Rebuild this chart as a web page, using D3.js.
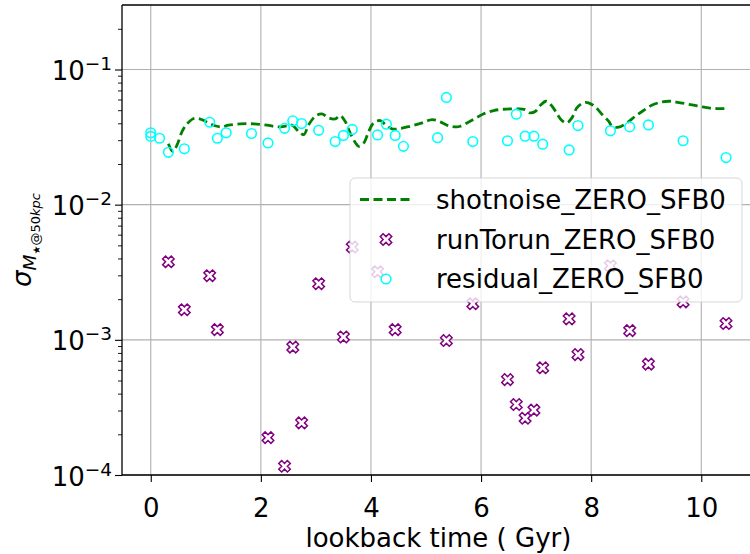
<!DOCTYPE html>
<html>
<head>
<meta charset="utf-8">
<script src="https://cdn.jsdelivr.net/npm/d3@7"></script>
<style>
  body { margin: 0; background: #fff; }
  svg { display: block; }
  text { font-family: "DejaVu Sans", sans-serif; fill: #000; }
</style>
</head>
<body>
<svg id="chart" width="750" height="554"></svg>
<script>
// ---- data ---------------------------------------------------------------
// residual scatter (lookback time in Gyr, sigma)
const residualTime = [0, 0, 0.16, 0.32, 0.61, 1.07, 1.21, 1.37, 1.83, 2.13, 2.43, 2.58, 2.74, 3.05,
  3.35, 3.50, 3.66, 4.12, 4.28, 4.44, 4.59, 5.21, 5.37, 5.85, 6.48, 6.64, 6.80, 6.96, 7.12, 7.60,
  7.76, 8.35, 8.70, 9.04, 9.67, 10.45];
const residualSigma = [0.034, 0.032, 0.031, 0.0244, 0.0259, 0.0407, 0.031, 0.034, 0.0336, 0.0286,
  0.0367, 0.0417, 0.0398, 0.0355, 0.0293, 0.0325, 0.0360, 0.0328, 0.0394, 0.0325, 0.0270, 0.0313,
  0.0621, 0.0293, 0.0297, 0.0467, 0.0321, 0.0321, 0.0280, 0.0254, 0.0385, 0.0352, 0.0376, 0.0389,
  0.0297, 0.0223];

// run-to-run scatter
const runTime = [0.32, 0.61, 1.07, 1.21, 2.13, 2.43, 2.58, 2.74, 3.05, 3.50, 3.66, 4.12, 4.44, 5.37,
  5.85, 6.48, 6.64, 6.80, 6.96, 7.12, 7.60, 7.76, 8.35, 8.70, 9.04, 9.67, 10.45];
const runSigma = [0.00378, 0.00167, 0.00298, 0.00119, 0.000189, 0.000116, 0.000883, 0.000243,
  0.00260, 0.00105, 0.00486, 0.00319, 0.00119, 0.000988, 0.00185, 0.000508, 0.000332, 0.000263,
  0.000302, 0.000621, 0.00143, 0.000778, 0.00353, 0.00117, 0.000661, 0.00191, 0.00132];

// shot-noise curve
const shotTime = [0.32, 0.40, 0.48, 0.57, 0.66, 0.78, 0.87, 0.99, 1.14, 1.29, 1.41, 1.63, 1.87,
  2.11, 2.32, 2.47, 2.57, 2.69, 2.78, 2.87, 2.99, 3.11, 3.23, 3.35, 3.44, 3.53, 3.62, 3.72, 3.78,
  3.87, 3.96, 4.05, 4.17, 4.26, 4.38, 4.50, 4.71, 4.93, 5.11, 5.26, 5.41, 5.56, 5.62, 5.80, 6.05,
  6.23, 6.41, 6.65, 6.80, 6.89, 6.99, 7.08, 7.18, 7.29, 7.38, 7.47, 7.56, 7.65, 7.74, 7.86, 7.95,
  8.08, 8.20, 8.32, 8.38, 8.50, 8.65, 8.80, 8.95, 9.10, 9.29, 9.44, 9.62, 9.80, 9.98, 10.16,
  10.29, 10.42];
const shotSigma = [0.0282, 0.0248, 0.0278, 0.0349, 0.0396, 0.0434, 0.0434, 0.0414, 0.0387,
  0.0376, 0.0387, 0.0396, 0.0396, 0.0387, 0.0376, 0.0383, 0.0387, 0.0346, 0.0330, 0.0391,
  0.0451, 0.0470, 0.0439, 0.0431, 0.0456, 0.0414, 0.0340, 0.0286, 0.0270, 0.0286, 0.0349,
  0.0403, 0.0419, 0.0391, 0.0364, 0.0364, 0.0380, 0.0403, 0.0426, 0.0410, 0.0383, 0.0376,
  0.0380, 0.0414, 0.0470, 0.0497, 0.0508, 0.0511, 0.0505, 0.0478, 0.0491, 0.0544, 0.0582,
  0.0535, 0.0470, 0.0419, 0.0403, 0.0439, 0.0520, 0.0567, 0.0567, 0.0526, 0.0464, 0.0414,
  0.0380, 0.0374, 0.0403, 0.0451, 0.0497, 0.0544, 0.0576, 0.0582, 0.0567, 0.0550, 0.0532,
  0.0517, 0.0514, 0.0514];

const seriesNames = ["shotnoise_ZERO_SFB0", "runTorun_ZERO_SFB0", "residual_ZERO_SFB0"];
const xTicks = [0, 2, 4, 6, 8, 10];
const yTicks = [1e-4, 1e-3, 1e-2, 1e-1];
const yTickExponents = ["−4", "−3", "−2", "−1"];
const xLabel = "lookback time ( Gyr)";

// ---- layout ---------------------------------------------------------------
const svg = d3.select("#chart");
const plot = { left: 122, top: 5, bottom: 475 };
const xDomain = [-0.5225, 10.9725];
const pxPerGyr = 55.05;
plot.right = plot.left + pxPerGyr * (xDomain[1] - xDomain[0]);

const x = d3.scaleLinear().domain(xDomain).range([plot.left, plot.right]);
const y = d3.scaleLog().domain([1e-4, 0.3]).range([plot.bottom, plot.top]);

const gridColor = "#b0b0b0";
const purple = "#800080";
const cyan = "#00ffff";
const green = "#008000";
const fontSize = 26;

svg.append("defs").append("clipPath").attr("id", "plotClip")
  .append("rect")
  .attr("x", plot.left).attr("y", plot.top)
  .attr("width", plot.right - plot.left).attr("height", plot.bottom - plot.top);

// grid
const grid = svg.append("g");
grid.selectAll("line.gx").data(xTicks).join("line")
  .attr("x1", d => x(d)).attr("x2", d => x(d))
  .attr("y1", plot.top).attr("y2", plot.bottom)
  .attr("stroke", gridColor).attr("stroke-width", 1.1);
grid.selectAll("line.gy").data(yTicks).join("line")
  .attr("x1", plot.left).attr("x2", plot.right)
  .attr("y1", d => y(d)).attr("y2", d => y(d))
  .attr("stroke", gridColor).attr("stroke-width", 1.1);

const marks = svg.append("g").attr("clip-path", "url(#plotClip)");

// shot-noise dashed curve
const shotPoints = shotTime.map((t, i) => [t, shotSigma[i]]);
const line = d3.line()
  .x(d => x(d[0])).y(d => y(d[1]))
  .curve(d3.curveCatmullRom.alpha(0.5));
marks.append("path").datum(shotPoints)
  .attr("d", line)
  .attr("fill", "none").attr("stroke", green)
  .attr("stroke-width", 2.8).attr("stroke-dasharray", "9,4.5");

// filled "X" marker outline
const xMarkerSize = 11.5;
const xMarkerPath = (() => {
  const pts = [[-1, -2], [0, -1], [1, -2], [2, -1], [1, 0], [2, 1], [1, 2], [0, 1], [-1, 2], [-2, 1], [-1, 0], [-2, -1]];
  const s = xMarkerSize / 4;
  return "M" + pts.map(p => (p[0] * s).toFixed(2) + "," + (p[1] * s).toFixed(2)).join("L") + "Z";
})();

const runPoints = runTime.map((t, i) => [t, runSigma[i]]);
marks.selectAll("path.run").data(runPoints).join("path")
  .attr("class", "run")
  .attr("d", xMarkerPath)
  .attr("transform", d => `translate(${x(d[0])},${y(d[1])})`)
  .attr("fill", "#fff").attr("stroke", purple).attr("stroke-width", 1.5);

const residualPoints = residualTime.map((t, i) => [t, residualSigma[i]]);
marks.selectAll("circle.res").data(residualPoints).join("circle")
  .attr("class", "res")
  .attr("cx", d => x(d[0])).attr("cy", d => y(d[1]))
  .attr("r", 4.8)
  .attr("fill", "none").attr("stroke", cyan).attr("stroke-width", 1.6);

// ---- axes -----------------------------------------------------------------
const axes = svg.append("g");
// spines (right spine falls outside the canvas)
axes.append("line").attr("x1", plot.left).attr("x2", plot.left)
  .attr("y1", plot.top).attr("y2", plot.bottom).attr("stroke", "#000").attr("stroke-width", 1.3);
axes.append("line").attr("x1", plot.left).attr("x2", plot.right)
  .attr("y1", plot.top).attr("y2", plot.top).attr("stroke", "#000").attr("stroke-width", 1.3);
axes.append("line").attr("x1", plot.left).attr("x2", plot.right)
  .attr("y1", plot.bottom).attr("y2", plot.bottom).attr("stroke", "#000").attr("stroke-width", 1.3);

// x axis ticks + labels
const xAxis = d3.axisBottom(x).tickValues(xTicks).tickSize(7).tickPadding(0).tickFormat(d3.format("d"));
const gx = svg.append("g").attr("transform", `translate(0,${plot.bottom})`).call(xAxis);
gx.select(".domain").remove();
gx.selectAll(".tick line").attr("stroke", "#000").attr("stroke-width", 1.1);
gx.selectAll(".tick text")
  .attr("font-family", "DejaVu Sans").attr("font-size", fontSize)
  .attr("fill", "#000").attr("dy", null).attr("y", 42);

// y axis: minor ticks
const minorTicks = [];
for (let e = -4; e <= -1; e++) {
  for (let m = 2; m <= 9; m++) {
    const v = m * Math.pow(10, e);
    if (v <= 0.3) minorTicks.push(v);
  }
}
const yMinor = d3.axisLeft(y).tickValues(minorTicks).tickSize(4).tickFormat("");
const gyMinor = svg.append("g").attr("transform", `translate(${plot.left},0)`).call(yMinor);
gyMinor.select(".domain").remove();
gyMinor.selectAll(".tick line").attr("stroke", "#000").attr("stroke-width", 0.9);

const yMajor = d3.axisLeft(y).tickValues(yTicks).tickSize(7).tickFormat("");
const gyMajor = svg.append("g").attr("transform", `translate(${plot.left},0)`).call(yMajor);
gyMajor.select(".domain").remove();
gyMajor.selectAll(".tick line").attr("stroke", "#000").attr("stroke-width", 1.1);

// y tick labels as 10^n
const yLab = svg.append("g");
yTicks.forEach((v, i) => {
  const t = yLab.append("text")
    .attr("x", plot.left - 10).attr("y", y(v) + 10.5)
    .attr("text-anchor", "end").attr("font-size", fontSize);
  t.append("tspan").text("10");
  t.append("tspan").attr("font-size", 18.5).attr("dy", -10).text(yTickExponents[i]);
});

// axis titles
svg.append("text")
  .attr("x", (plot.left + plot.right) / 2).attr("y", 547)
  .attr("text-anchor", "middle").attr("font-size", fontSize)
  .text(xLabel);

const yTitle = svg.append("text")
  .attr("transform", "translate(31,240) rotate(-90)")
  .attr("text-anchor", "middle").attr("font-size", fontSize);
yTitle.append("tspan").attr("font-style", "italic").text("σ");
yTitle.append("tspan").attr("font-style", "italic").attr("font-size", 18.5).attr("dy", 5).text("M");
yTitle.append("tspan").attr("font-size", 10).attr("dy", 4).text("★");
yTitle.append("tspan").attr("font-size", 13).text("@50");
yTitle.append("tspan").attr("font-size", 13).attr("font-style", "italic").text("kpc");

// ---- legend ---------------------------------------------------------------
const legend = svg.append("g");
legend.append("rect")
  .attr("x", 350).attr("y", 178).attr("width", 392).attr("height", 124).attr("rx", 5)
  .attr("fill", "#fff").attr("fill-opacity", 0.8)
  .attr("stroke", "#cccccc").attr("stroke-opacity", 0.8).attr("stroke-width", 1);

const rowY = [199.5, 239.5, 279];
const handleX0 = 360, handleX1 = 412, handleMid = (handleX0 + handleX1) / 2;

legend.append("line")
  .attr("x1", handleX0).attr("x2", handleX1).attr("y1", rowY[0]).attr("y2", rowY[0])
  .attr("stroke", green).attr("stroke-width", 2.8).attr("stroke-dasharray", "9,4.5");
legend.append("path")
  .attr("d", xMarkerPath)
  .attr("transform", `translate(${handleMid},${rowY[1]})`)
  .attr("fill", "#fff").attr("stroke", purple).attr("stroke-width", 1.5);
legend.append("circle")
  .attr("cx", handleMid).attr("cy", rowY[2]).attr("r", 4.8)
  .attr("fill", "none").attr("stroke", cyan).attr("stroke-width", 1.6);

legend.selectAll("text.lbl").data(seriesNames).join("text")
  .attr("class", "lbl")
  .attr("x", 436).attr("y", (d, i) => rowY[i] + 9)
  .attr("font-size", fontSize)
  .text(d => d);
</script>
</body>
</html>
